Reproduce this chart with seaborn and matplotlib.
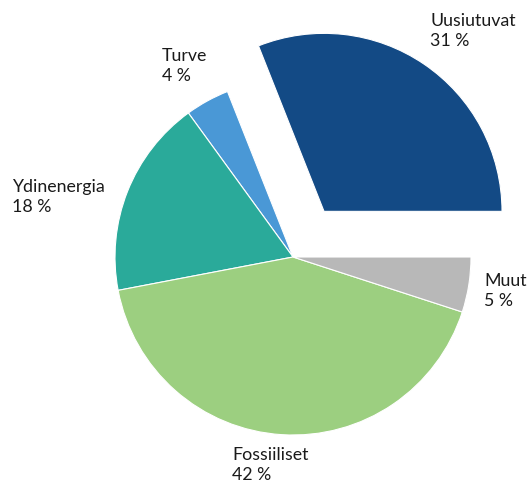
import matplotlib
matplotlib.use("Agg")
import matplotlib.pyplot as plt
import seaborn as sns
import numpy as np

# ---- data ----
categories = ["Uusiutuvat", "Turve", "Ydinenergia", "Fossiiliset", "Muut"]
values = [31, 4, 18, 42, 5]
pct_labels = ["31 %", "4 %", "18 %", "42 %", "5 %"]
colors = ["#134A85", "#4A98D6", "#2AAA9A", "#9CCF80", "#B8B8B8"]

sns.set_theme(style="white")
plt.rcParams['font.family'] = ['Lato', 'DejaVu Sans']

fig = plt.figure(figsize=(5.31, 4.85), dpi=100)
ax = fig.add_axes([0, 0, 1, 1])

explode = [0.31, 0, 0, 0, 0]
wedges, _ = ax.pie(values, colors=colors, startangle=0, counterclock=True,
                   explode=explode, radius=1.0,
                   wedgeprops=dict(edgecolor="white", linewidth=0.8))

ax.set_xlim(-293/178, (531-293)/178)
ax.set_ylim(-(485-258)/178, 258/178)
ax.set_aspect("equal")
ax.axis("off")

# label anchors (left edge, vertical centre) in axis data units
label_pos = [(0.770, 1.275), (-0.736, 1.079), (-1.579, 0.343),
             (-0.343, -1.163), (1.073, -0.185)]
for cat, pct, (x, y) in zip(categories, pct_labels, label_pos):
    ax.text(x, y, f"{cat}\n{pct}", ha="left", va="center", fontsize=12.8,
            color="#1a1a1a", linespacing=1.3)

fig.savefig("out.png", dpi=100)
